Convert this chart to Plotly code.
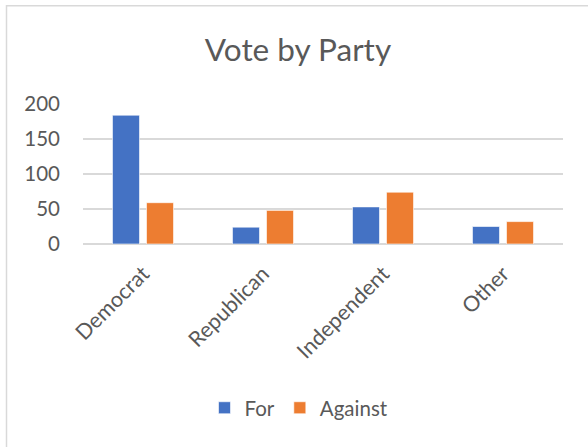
import plotly.graph_objects as go

categories = ["Democrat", "Republican", "Independent", "Other"]
for_votes = [184, 24, 53, 25]
against_votes = [59, 48, 74, 32]

TEXT = "#595959"
GRID = "#d9d9d9"
FONT = "Lato"

fig = go.Figure()
fig.add_trace(go.Bar(name="For", x=categories, y=for_votes,
                     marker=dict(color="#4472C4", line=dict(color="white", width=0.6))))
fig.add_trace(go.Bar(name="Against", x=categories, y=against_votes,
                     marker=dict(color="#ED7D31", line=dict(color="white", width=0.6))))

W, H = 588, 447
L, R, T, B = 83, 25, 104, 202.5
pw, ph = W - L - R, H - T - B

fig.update_layout(
    width=W, height=H,
    margin=dict(l=L, r=R, t=T, b=B, pad=0),
    paper_bgcolor="white", plot_bgcolor="white",
    font=dict(family=FONT, color=TEXT, size=20),
    barmode="group", bargap=0.433, bargroupgap=0.206,
    title=dict(text="Vote by Party", font=dict(family=FONT, size=31.5, color=TEXT),
               x=298 / W, xanchor="center", xref="container",
               y=1 - 50 / H, yanchor="middle", yref="container"),
    xaxis=dict(tickangle=-45, showgrid=False, showline=False, ticks="",
               tickfont=dict(size=21.5, color=TEXT), ticklabelstandoff=12),
    yaxis=dict(range=[0, 200], dtick=50, showgrid=True, gridcolor=GRID, gridwidth=1.5,
               zeroline=True, zerolinecolor=GRID, zerolinewidth=1.5,
               showline=False, ticks="", tickfont=dict(size=20.5, color=TEXT),
               ticklabelstandoff=22),
    legend=dict(orientation="h", x=(299 - (L + pw / 2)) / pw + 0.5,
                xanchor="center", y=1 - (409 - T) / ph, yanchor="middle",
                font=dict(size=20.5, color=TEXT), itemwidth=30, traceorder="normal"),
    showlegend=True,
)

# chart-area border (light gray), left/top edges visible
fig.add_shape(type="rect", xref="paper", yref="paper",
              x0=(6.5 - L) / pw, x1=(W + 20 - L) / pw,
              y0=-(H + 20 - T - ph) / ph, y1=1 + (T - 5.5) / ph,
              line=dict(color=GRID, width=1.5), fillcolor="rgba(0,0,0,0)", layer="below")

fig.write_html("out.html")
